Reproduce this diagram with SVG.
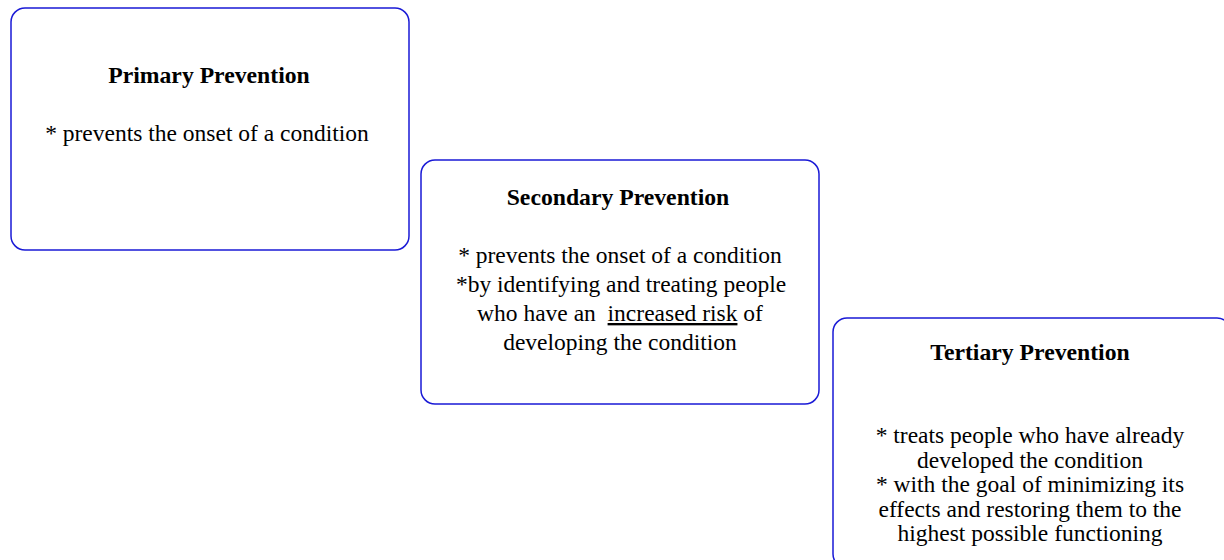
<svg xmlns="http://www.w3.org/2000/svg" width="1224" height="560" viewBox="0 0 1224 560">
<style>
.box{fill:#fff;stroke:#1a1ad6;stroke-width:1.5}
.t{font-family:"Liberation Serif","Times New Roman",serif;font-weight:bold;font-size:23.7px;fill:#000;text-anchor:middle}
.b{font-family:"Liberation Serif","Times New Roman",serif;font-size:23.5px;fill:#000;text-anchor:middle}
</style>
<rect width="1224" height="560" fill="#fff"/>
<g id="primary">
<rect class="box" x="11" y="8" width="398" height="242" rx="14"/>
<text class="t" x="209" y="83">Primary Prevention</text>
<text class="b" x="207" y="141">* prevents the onset of a condition</text>
</g>
<g id="secondary">
<rect class="box" x="421" y="160" width="398" height="244" rx="14"/>
<text class="t" x="618" y="205">Secondary Prevention</text>
<text class="b" x="620" y="263">* prevents the onset of a condition</text>
<text class="b" x="621" y="292">*by identifying and treating people</text>
<text class="b" x="620" y="321" xml:space="preserve">who have an  <tspan text-decoration="underline">increased risk</tspan> of</text>
<text class="b" x="620" y="350">developing the condition</text>
</g>
<g id="tertiary">
<rect class="box" x="833" y="318" width="398" height="250" rx="14"/>
<text class="t" x="1030" y="360">Tertiary Prevention</text>
<text class="b" x="1030" y="443">* treats people who have already</text>
<text class="b" x="1030" y="468">developed the condition</text>
<text class="b" x="1030" y="492">* with the goal of minimizing its</text>
<text class="b" x="1030" y="517">effects and restoring them to the</text>
<text class="b" x="1030" y="541">highest possible functioning</text>
</g>
<g id="connectors"></g>
</svg>
